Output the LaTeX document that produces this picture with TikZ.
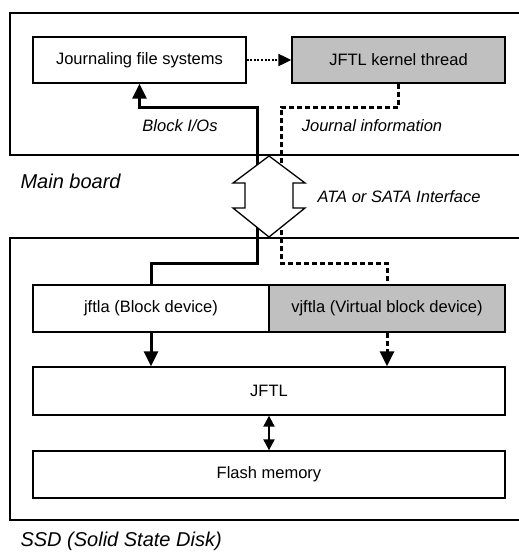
\documentclass[tikz,border=0pt]{standalone}
\usepackage{fontspec}
\setmainfont{Liberation Sans}
\usetikzlibrary{arrows.meta}
\definecolor{boxgray}{HTML}{C0C0C0}
\begin{document}
\begin{tikzpicture}[x=1pt,y=-1pt,
  box/.style={draw,line width=1.3pt,fill=white,inner sep=0pt,font=\fontsize{16.5}{19}\selectfont},
  graybox/.style={box,fill=boxgray},
  frame/.style={line width=1.3pt},
  solidline/.style={line width=3pt},
  dashline/.style={line width=3pt,dash pattern=on 5pt off 3pt},
  dotline/.style={line width=2pt,dash pattern=on 2pt off 1.6pt},
  tip/.style={-{Triangle[length=15pt,width=14pt]}},
  smalltip/.style={-{Triangle[length=13pt,width=12pt]}},
  lbl/.style={font=\fontsize{16.5}{19}\selectfont\itshape},
  biglbl/.style={font=\fontsize{20}{24}\selectfont\itshape,anchor=west}]
\useasboundingbox (0,0) rectangle (519,554);
% frames
\draw[frame] (519,13) -| (10,155) -- (519,155);
\draw[frame] (519,238) -| (10,520) -- (519,520);
% nodes
\node[box,minimum width=213pt,minimum height=46pt] (jfs) at (139.5,60) {Journaling file systems};
\node[graybox,minimum width=213pt,minimum height=46pt] (kernel) at (398.5,60) {JFTL kernel thread};
\node[box,minimum width=236pt,minimum height=47pt] (jftla) at (151,308.5) {jftla (Block device)};
\node[graybox,minimum width=236pt,minimum height=47pt] (vjftla) at (387,308.5) {vjftla (Virtual block device)};
\node[box,minimum width=472pt,minimum height=48pt] (jftl) at (269,391) {JFTL};
\node[box,minimum width=472pt,minimum height=47pt] (flash) at (269,474.5) {Flash memory};
% corners
\coordinate (c1) at (257,263);
\coordinate (c2) at (257,107);
\coordinate (d1) at (281,263);
\coordinate (d2) at (281,107);
% connectors
\draw[dotline,smalltip] (jfs.east) -- (kernel.west);
\draw[solidline,tip] (jftla.north) |- (c1) -- (c2) -| (jfs.south);
\draw[dashline] (kernel.south) |- (d2) -- (d1) -| (vjftla.north);
\draw[solidline,tip] (jftla.south) -- (jftl.north -| jftla.south);
\draw[dashline,tip] (vjftla.south) -- (jftl.north -| vjftla.south);
\draw[line width=2pt,{Triangle[length=11pt,width=11pt]}-{Triangle[length=11pt,width=11pt]}] (jftl.south) -- (flash.north);
% interface arrow
\draw[frame,fill=white,line join=miter] (269,156) -- (305,183) -- (293,183) -- (293,208) -- (305,208) -- (269,237) -- (233,208) -- (245,208) -- (245,183) -- (233,183) -- cycle;
% labels
\node[lbl] (bio) at (180,126) {Block I/Os};
\node[lbl] (jinfo) at (372,126) {Journal information};
\node[lbl,anchor=west] (ata) at (314,197) {ATA or SATA Interface};
\node[biglbl] (mb) at (17,181) {Main board};
\node[biglbl] (ssd) at (17,541) {SSD (Solid State Disk)};
\end{tikzpicture}
\end{document}
